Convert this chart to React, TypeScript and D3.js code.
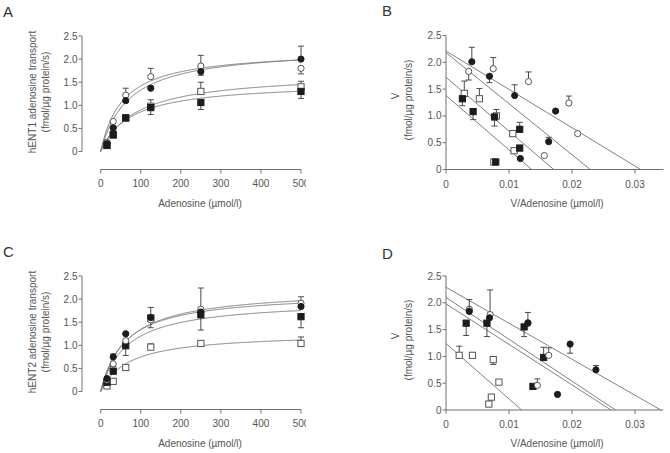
import React from "react";
import * as d3 from "d3";

// ---------- Data ----------
// Panels A and C: adenosine concentration (µmol/l)
const conc = [15.6, 31.25, 62.5, 125, 250, 500];

// Panel A (hENT1) transport means and signed error bars (+ up, - down)
const aOpenCircle = [0.2, 0.65, 1.22, 1.62, 1.85, 1.8];
const aOpenCircleErr = [0, 0, 0.15, 0.18, 0.23, -0.12];
const aFilledCircle = [0.17, 0.51, 1.1, 1.37, 1.73, 2.0];
const aFilledCircleErr = [0, 0.04, 0, 0, -0.08, 0.28];
const aOpenSquare = [0.15, 0.35, 0.72, 0.98, 1.3, 1.4];
const aOpenSquareErr = [0, 0, 0.06, 0.14, 0.2, 0.12];
const aFilledSquare = [0.13, 0.37, 0.73, 0.95, 1.06, 1.3];
const aFilledSquareErr = [0, 0, -0.05, -0.15, -0.15, -0.15];
// Michaelis-Menten fit parameters (openCircle, filledCircle, openSquare, filledSquare)
const aVmax = [2.2, 2.26, 1.71, 1.5];
const aKm = [55, 70, 90, 75];

// Panel C (hENT2)
const cOpenCircle = [0.25, 0.6, 1.1, 1.55, 1.78, 1.91];
const cOpenCircleErr = [0, 0, 0, 0, 0.46, 0.14];
const cFilledCircle = [0.28, 0.75, 1.25, 1.6, 1.72, 1.84];
const cFilledCircleErr = [0, 0.06, 0, 0.22, 0, 0];
const cOpenSquare = [0.12, 0.22, 0.52, 0.96, 1.04, 1.04];
const cOpenSquareErr = [0, 0, 0, 0.07, 0, 0.14];
const cFilledSquare = [0.2, 0.44, 0.99, 1.59, 1.66, 1.62];
const cFilledSquareErr = [0, 0.1, -0.21, -0.21, -0.33, -0.24];
const cVmax = [2.22, 2.14, 1.27, 1.98];
const cKm = [65, 60, 70, 65];

// Panel B (Eadie-Hofstee, hENT1): [V/S, V, signed error]
const bFilledCircle = [
  [0.0041, 2.01, 0.27], [0.0069, 1.74, -0.12], [0.0109, 1.38, 0.2],
  [0.0174, 1.09, 0], [0.0163, 0.52, 0.08], [0.0118, 0.205, 0],
];
const bOpenCircle = [
  [0.0036, 1.83, -0.16], [0.0075, 1.88, 0.21], [0.0131, 1.64, 0.18],
  [0.0195, 1.24, 0.13], [0.0209, 0.67, 0], [0.0156, 0.26, 0],
];
const bOpenSquare = [
  [0.0029, 1.42, 0.23], [0.0053, 1.32, 0.19], [0.008, 1.0, 0.12],
  [0.0106, 0.67, 0], [0.0108, 0.35, 0], [0.0076, 0.14, 0],
];
const bFilledSquare = [
  [0.0026, 1.32, -0.13], [0.0043, 1.08, -0.15], [0.0077, 0.98, -0.17],
  [0.0117, 0.75, 0.13], [0.0117, 0.4, 0], [0.0079, 0.14, 0],
];
const bLineYInt = [2.21, 2.18, 1.72, 1.38];
const bLineXInt = [0.0309, 0.0229, 0.0171, 0.0136];

// Panel D (Eadie-Hofstee, hENT2)
const dFilledCircle = [
  [0.0037, 1.84, 0.22], [0.0069, 1.72, 0], [0.013, 1.62, 0.2],
  [0.0197, 1.23, -0.17], [0.0238, 0.75, 0.08], [0.0177, 0.29, 0],
];
const dOpenCircle = [
  [0.0037, 1.88, 0], [0.007, 1.78, 0.46], [0.013, 1.63, 0],
  [0.0163, 1.02, 0.14], [0.0145, 0.46, 0.12],
];
const dOpenSquare = [
  [0.0021, 1.02, 0.17], [0.0042, 1.02, 0], [0.0075, 0.94, -0.09],
  [0.0084, 0.52, 0], [0.0072, 0.24, 0], [0.0068, 0.11, 0],
];
const dFilledSquare = [
  [0.0032, 1.62, -0.23], [0.0065, 1.62, -0.25], [0.0124, 1.55, -0.18],
  [0.0155, 0.98, 0.19], [0.0138, 0.44, 0],
];
const dLineYInt = [2.29, 2.1, 1.98, 1.24];
const dLineXInt = [0.0341, 0.0269, 0.0262, 0.012];

const yTicks = [0, 0.5, 1.0, 1.5, 2.0, 2.5];
const concTicks = [0, 100, 200, 300, 400, 500];
const ratioTicks = [0, 0.01, 0.02, 0.03];

// ---------- Styles ----------
const FONT = "'Liberation Sans', Arial, sans-serif";
const TEXT = "#555";
const AXIS = "#707070";
const FIT = "#808080";
const MARK = "#1c1c1c";
const fmtY = (v: number) => (v === 0 ? "0" : v.toFixed(1));

type Pt = { x: number; y: number; e: number };
type Kind = "oc" | "fc" | "os" | "fs";

function Marker({ kind, cx, cy }: { kind: Kind; cx: number; cy: number }) {
  const filled = kind === "fc" || kind === "fs";
  const fill = filled ? MARK : "#fff";
  const stroke = filled ? MARK : "#555";
  if (kind === "oc" || kind === "fc")
    return <circle cx={cx} cy={cy} r={3.1} fill={fill} stroke={stroke} strokeWidth={1} />;
  return <rect x={cx - 3.1} y={cy - 3.1} width={6.2} height={6.2} fill={fill} stroke={stroke} strokeWidth={1} />;
}

function Points({ pts, kind, x, y }: { pts: Pt[]; kind: Kind; x: any; y: any }) {
  return (
    <g>
      {pts.map((p, i) =>
        p.e !== 0 ? (
          <g key={"e" + i} stroke="#4a4a4a" strokeWidth={1}>
            <line x1={x(p.x)} x2={x(p.x)} y1={y(p.y)} y2={y(p.y + p.e)} />
            <line x1={x(p.x) - 3} x2={x(p.x) + 3} y1={y(p.y + p.e)} y2={y(p.y + p.e)} />
          </g>
        ) : null
      )}
      {pts.map((p, i) => (
        <Marker key={"m" + i} kind={kind} cx={x(p.x)} cy={y(p.y)} />
      ))}
    </g>
  );
}

function YAxis({ y, ax, title1, title2, t1x, t2x, t1y, t2y }: any) {
  return (
    <g fontFamily={FONT} fontSize={10} fill={TEXT}>
      <line x1={ax} x2={ax} y1={y(2.5)} y2={y(0)} stroke={AXIS} strokeWidth={1} />
      {yTicks.map((t) => (
        <g key={t}>
          <line x1={ax - 3.5} x2={ax} y1={y(t)} y2={y(t)} stroke={AXIS} strokeWidth={1} />
          <text x={ax - 4.5} y={y(t)} textAnchor="end" dominantBaseline="central">
            {fmtY(t)}
          </text>
        </g>
      ))}
      <text transform={`translate(${t1x},${t1y}) rotate(-90)`} textAnchor="middle" dominantBaseline="central">
        {title1}
      </text>
      <text transform={`translate(${t2x},${t2y}) rotate(-90)`} textAnchor="middle" dominantBaseline="central">
        {title2}
      </text>
    </g>
  );
}

function XAxis({ x, ay, ticks, fmt, x0, x1, title, tx, ty, ly }: any) {
  return (
    <g fontFamily={FONT} fontSize={10} fill={TEXT}>
      <line x1={x0} x2={x1} y1={ay} y2={ay} stroke={AXIS} strokeWidth={1} />
      {ticks.map((t: number) => (
        <g key={t}>
          <line x1={x(t)} x2={x(t)} y1={ay} y2={ay + 4} stroke={AXIS} strokeWidth={1} />
          <text x={x(t)} y={ly} textAnchor="middle" dominantBaseline="central">
            {fmt(t)}
          </text>
        </g>
      ))}
      <text x={tx} y={ty} textAnchor="middle" dominantBaseline="central">
        {title}
      </text>
    </g>
  );
}

function MMPanel({ dy, enzyme, letter, series, vmax, km }: any) {
  const x = d3.scaleLinear().domain([0, 500]).range([100.7, 301]);
  const y = d3.scaleLinear().domain([0, 2.5]).range([151.5 + dy, 36 + dy]);
  const sample = d3.range(0, 500.01, 2);
  const kinds: Kind[] = ["oc", "fc", "os", "fs"];
  const drawOrder: Kind[] = ["os", "fs", "oc", "fc"];
  return (
    <g clipPath="url(#leftClip)">
      <text x={3} y={17 + dy} fontFamily={FONT} fontSize={15} fill="#333">
        {letter}
      </text>
      {vmax.map((V: number, i: number) => (
        <path
          key={i}
          d={
            d3
              .line<number>()
              .x((s) => x(s))
              .y((s) => y((V * s) / (km[i] + s)))(sample) || ""
          }
          fill="none"
          stroke={FIT}
          strokeWidth={1}
        />
      ))}
      {drawOrder.map((k) => {
        const idx = kinds.indexOf(k);
        const pts: Pt[] = conc.map((c, j) => ({ x: c, y: series[idx][0][j], e: series[idx][1][j] }));
        return <Points key={k} pts={pts} kind={k} x={x} y={y} />;
      })}
      <YAxis
        y={y}
        ax={82}
        title1={`${enzyme} adenosine transport`}
        title2="(fmol/µg protein/s)"
        t1x={32}
        t2x={45.5}
        t1y={92 + dy}
        t2y={92 + dy}
      />
      <XAxis
        x={x}
        ay={169.5 + dy}
        ticks={concTicks}
        fmt={(t: number) => String(t)}
        x0={100.7}
        x1={301}
        title="Adenosine (µmol/l)"
        tx={200}
        ty={203 + dy}
        ly={183.5 + dy}
      />
    </g>
  );
}

function EHPanel({ y0, y25, letter, letterY, series, yInt, xInt, titleDy }: any) {
  const x = d3.scaleLinear().domain([0, 0.01]).range([446, 509]);
  const y = d3.scaleLinear().domain([0, 2.5]).range([y0, y25]);
  const kinds: Kind[] = ["oc", "fc", "os", "fs"];
  const drawOrder: Kind[] = ["os", "fs", "oc", "fc"];
  return (
    <g>
      <text x={382} y={letterY} fontFamily={FONT} fontSize={15} fill="#333">
        {letter}
      </text>
      {yInt.map((b: number, i: number) => (
        <line key={i} x1={x(0)} y1={y(b)} x2={x(xInt[i])} y2={y(0)} stroke={FIT} strokeWidth={1} />
      ))}
      {drawOrder.map((k) => {
        const idx = kinds.indexOf(k);
        const pts: Pt[] = series[idx].map((r: number[]) => ({ x: r[0], y: r[1], e: r[2] }));
        return <Points key={k} pts={pts} kind={k} x={x} y={y} />;
      })}
      <YAxis
        y={y}
        ax={446}
        title1="V"
        title2="(fmol/µg protein/s)"
        t1x={395}
        t2x={408}
        t1y={96 + titleDy}
        t2y={100 + titleDy}
      />
      <XAxis
        x={x}
        ay={y0}
        ticks={ratioTicks}
        fmt={(t: number) => (t === 0 ? "0" : t.toFixed(2))}
        x0={446}
        x1={x(0.0345)}
        title="V/Adenosine (µmol/l)"
        tx={557}
        ty={203 + titleDy}
        ly={184 + titleDy}
      />
    </g>
  );
}

export default function App() {
  return (
    <svg
      width={670}
      height={453}
      viewBox="0 0 670 453"
      style={{ position: "absolute", left: 0, top: 0, background: "#fff" }}
    >
      <defs>
        <clipPath id="leftClip">
          <rect x={0} y={0} width={306} height={453} />
        </clipPath>
      </defs>
      <rect width={670} height={453} fill="#fff" />
      <MMPanel
        dy={0}
        enzyme="hENT1"
        letter="A"
        series={[
          [aOpenCircle, aOpenCircleErr],
          [aFilledCircle, aFilledCircleErr],
          [aOpenSquare, aOpenSquareErr],
          [aFilledSquare, aFilledSquareErr],
        ]}
        vmax={aVmax}
        km={aKm}
      />
      <MMPanel
        dy={240}
        enzyme="hENT2"
        letter="C"
        series={[
          [cOpenCircle, cOpenCircleErr],
          [cFilledCircle, cFilledCircleErr],
          [cOpenSquare, cOpenSquareErr],
          [cFilledSquare, cFilledSquareErr],
        ]}
        vmax={cVmax}
        km={cKm}
      />
      <EHPanel
        y0={169.5}
        y25={35.5}
        letter="B"
        letterY={16}
        series={[bOpenCircle, bFilledCircle, bOpenSquare, bFilledSquare]}
        yInt={bLineYInt}
        xInt={bLineXInt}
        titleDy={0}
      />
      <EHPanel
        y0={410}
        y25={276}
        letter="D"
        letterY={259}
        series={[dOpenCircle, dFilledCircle, dOpenSquare, dFilledSquare]}
        yInt={dLineYInt}
        xInt={dLineXInt}
        titleDy={240}
      />
    </svg>
  );
}
